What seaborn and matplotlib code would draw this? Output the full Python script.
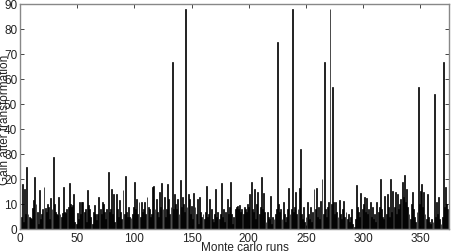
import matplotlib
matplotlib.use("Agg")
import matplotlib.pyplot as plt
import numpy as np
import pandas as pd
import seaborn as sns

# Monte carlo run index (1..374)
runs = list(range(1, 375))

# Gain after transformation
gain = [
    5, 18, 3, 16, 6, 25, 6, 5, 4.5, 4,
    8.5, 11.5, 21, 10, 7, 2, 15.5, 4, 6, 8,
    17, 8.5, 7, 10, 9, 4, 12.5, 8, 29, 10,
    7, 6, 5.5, 13, 6, 5, 6.5, 17, 7, 6.5,
    8, 9, 18.5, 10, 9, 9.5, 14, 3, 2, 6.5,
    4, 11, 6, 11, 11, 7, 8, 3, 15.5, 9.5,
    8, 5, 2, 7, 9.5, 6, 3.5, 6, 13, 8,
    6, 11, 10, 7, 4, 8, 22.7, 7, 8, 16,
    6, 14, 3, 14, 8, 5, 11.5, 7, 4, 15.5,
    6, 21.3, 7, 5, 8.7, 5, 4.5, 6, 9, 19,
    8, 12, 6, 11, 5, 10.7, 7, 8, 10.7, 6,
    12.7, 9, 8, 5, 6, 16.7, 17.3, 8, 12, 7,
    5, 14.7, 9, 18.5, 8, 12.7, 5, 8, 18, 12,
    6, 9, 67, 8, 14, 10, 8, 12, 6, 19.6,
    9, 12.7, 10, 7, 88, 9, 14, 12, 6, 9.3,
    4, 14.3, 9, 6, 12, 2, 12.7, 7, 5, 6,
    4, 7, 17.3, 5, 6, 12, 8, 4, 3, 6,
    16, 5, 7, 4, 6, 18.5, 5, 8, 3, 7,
    12, 6, 9, 19, 6, 2, 5, 8, 9, 9.3,
    8, 9.5, 7, 8, 6, 8.7, 8, 7, 10, 9,
    14, 19, 8, 7, 16, 4, 10, 15, 6, 9,
    20.7, 8, 14.4, 7, 3, 7, 5, 4, 13.3, 2,
    5, 4, 6, 8, 75, 10, 7, 8, 4, 10.7,
    6, 3, 5, 8, 16.3, 6, 8, 88, 7, 9,
    15, 6, 8, 16.3, 32, 6, 4, 9, 3, 5,
    10.7, 6, 4, 8.7, 3, 7, 16, 8, 16.3, 5,
    9, 4, 11.3, 20, 6, 67, 8, 5, 9, 11,
    88, 10, 57, 11, 6, 11, 7, 5, 11.7, 6,
    4, 8, 11.3, 5, 7, 4, 6, 3, 5, 8,
    2, 1, 4, 17.6, 9, 7, 5, 14.4, 8, 10,
    12.7, 7, 12.3, 6, 8, 11, 5, 9, 4, 6,
    3, 10.7, 7, 9, 20, 8, 5, 4, 13.3, 6,
    14, 9, 5, 20, 7, 15.3, 9, 15, 6, 14,
    8, 10, 12, 18.7, 13, 21.6, 11, 16, 9, 6,
    4, 10, 14.7, 8, 5, 3, 7, 57, 10, 15.3,
    18, 9, 14.7, 6, 4, 14, 5, 3, 2, 4,
    3, 54, 5, 10.7, 6, 12.7, 4, 2, 5, 67,
    9, 16.7, 10, 8,
]

xticks = [0, 50, 100, 150, 200, 250, 300, 350]
yticks = [0, 10, 20, 30, 40, 50, 60, 70, 80, 90]

sns.set_theme(style="white")
plt.rcParams["font.family"] = ["Liberation Sans", "DejaVu Sans"]

fig = plt.figure(figsize=(4.51, 2.53), dpi=100)
ax = fig.add_axes([20 / 451, 23 / 253, 429 / 451, 225 / 253])

df = pd.DataFrame({"run": runs, "gain": gain})
sns.barplot(data=df, x="run", y="gain", native_scale=True, color="black",
            saturation=1, width=0.8, edgecolor="black", linewidth=0.5,
            errorbar=None, ax=ax)

ax.set_xlim(0, 375)
ax.set_ylim(0, 90)
ax.set_xticks(xticks)
ax.set_yticks(yticks)
ax.set_xticklabels([str(t) for t in xticks])
ax.set_yticklabels([str(t) for t in yticks])
ax.tick_params(direction="in", length=3, width=0.7, color="#444444",
               labelsize=8.5, labelcolor="#222222", top=True, right=True,
               bottom=True, left=True, pad=2)
for s in ax.spines.values():
    s.set_color("#888888")
    s.set_linewidth(1.0)

ax.set_xlabel("Monte carlo runs", fontsize=8.5, color="#222222")
ax.set_ylabel("Gain after transformation", fontsize=8.5, color="#222222")
ax.xaxis.set_label_coords(0.524, -0.055)
ax.yaxis.set_label_coords(-0.02, 0.49)
ax.grid(False)

fig.savefig("out.png", dpi=100, facecolor="white")
